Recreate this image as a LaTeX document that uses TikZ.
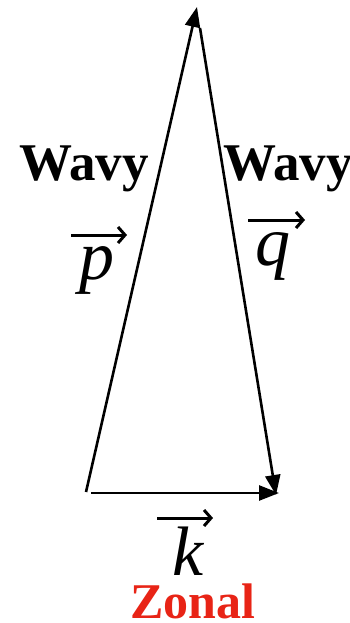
\documentclass[tikz,border=0pt]{standalone}
\usepackage{fontspec}
\setmainfont{Liberation Serif}
\usetikzlibrary{arrows.meta}
\definecolor{zonalred}{RGB}{232,36,22}
\tikzset{
  vec/.style={line width=2.6pt, -{Triangle[length=20pt,width=15pt]}},
  overarrow/.style={line width=3pt, -{Straight Barb[length=7pt,width=16pt]}},
  wavytext/.style={font=\fontsize{53}{58}\selectfont\bfseries, anchor=base, inner sep=0pt},
  vectext/.style={font=\fontsize{70}{76}\selectfont\itshape, anchor=base, inner sep=0pt}
}
\begin{document}
\begin{tikzpicture}[x=1pt,y=-1pt]
        \useasboundingbox (0,0) rectangle (350,623);
        % corners of the triangle
        \coordinate (pstart) at (86,492);
        \coordinate (ptip) at (197,7);
        \coordinate (qstart) at (200,28);
        \coordinate (qtip) at (276,495);
        \coordinate (kstart) at (91,493);
        \coordinate (ktip) at (279,493);
        % labels
        \node[wavytext] (wavyl) at (84,180) {Wavy};
        \node[wavytext] (wavyr) at (288,180) {Wavy};
        \node[vectext] (pvec) at (97,279) {p};
        \node[vectext] (qvec) at (273,265) {q};
        \node[vectext] (kvec) at (188,575) {k};
        \node[wavytext, font=\fontsize{50}{56}\selectfont\bfseries, text=zonalred] (zonal) at (193,618) {Zonal};
        % arrows over the letters
        \draw[overarrow] ([shift={(-26,-44)}]pvec.base) -- ++(56,0);
        \draw[overarrow] ([shift={(-25,-45)}]qvec.base) -- ++(57,0);
        \draw[overarrow] ([shift={(-31,-57)}]kvec.base) -- ++(56,0);
        % the three wave vectors
        \draw[vec] (pstart) -- (ptip);
        \draw[vec] (qstart) -- (qtip);
        \draw[vec] (kstart) -- (ktip);
    \end{tikzpicture}
\end{document}
